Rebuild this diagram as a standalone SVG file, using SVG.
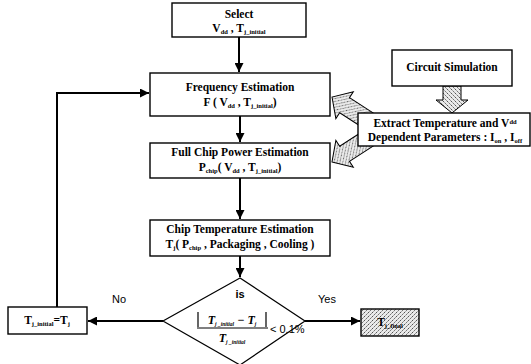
<svg xmlns="http://www.w3.org/2000/svg" width="531" height="364" viewBox="0 0 531 364">
<defs>
<style>
.box{fill:#fff;stroke:#000;stroke-width:1.4}
.t{font-family:"Liberation Serif",serif;font-weight:bold;font-size:11.5px;fill:#000;text-anchor:middle}
.s{font-size:6.5px}
.sans{font-family:"Liberation Sans",Arial,sans-serif;font-size:11px;fill:#000}
.con{fill:none;stroke:#000;stroke-width:2}
.blk{fill:url(#dots);stroke:#000;stroke-width:1}
</style>
<pattern id="dots" width="4" height="4" patternUnits="userSpaceOnUse">
<rect width="4" height="4" fill="#eaeaea"/>
<rect x="0" y="0" width="1" height="1" fill="#555"/>
<rect x="2" y="2" width="1" height="1" fill="#777"/>
<rect x="3" y="1" width="1" height="1" fill="#999"/>
<rect x="1" y="3" width="1" height="1" fill="#aaa"/>
</pattern>
<marker id="ah" viewBox="0 0 10 10" refX="10" refY="5" markerWidth="9" markerHeight="9" markerUnits="userSpaceOnUse" orient="auto">
<path d="M0,0 L10,5 L0,10 z" fill="#000"/>
</marker>
</defs>

<g id="connectors">
<line class="con" x1="239" y1="37" x2="239" y2="72" marker-end="url(#ah)"/>
<line class="con" x1="240" y1="116" x2="240" y2="142" marker-end="url(#ah)"/>
<line class="con" x1="240" y1="178" x2="240" y2="219" marker-end="url(#ah)"/>
<line class="con" x1="240" y1="256" x2="240" y2="277" marker-end="url(#ah)"/>
<line class="con" x1="163" y1="321" x2="88" y2="321" marker-end="url(#ah)"/>
<line class="con" x1="305" y1="321" x2="360" y2="321" marker-end="url(#ah)"/>
<polyline class="con" points="57,307 57,93 149,93" marker-end="url(#ah)"/>
<polygon class="blk" transform="translate(332,97) rotate(213)" points="0,0 -15,-16 -15,-9 -44,-9 -44,9 -15,9 -15,16"/>
<polygon class="blk" transform="translate(332,162) rotate(147)" points="0,0 -15,-16 -15,-9 -44,-9 -44,9 -15,9 -15,16"/>
<polygon class="blk" transform="translate(452,113) rotate(90)" points="0,0 -13,-16 -13,-9 -27,-9 -27,9 -13,9 -13,16"/>
<text class="sans" x="112" y="303">No</text>
<text class="sans" x="318" y="303">Yes</text>
</g>

<g id="select">
<rect class="box" x="172" y="3" width="134" height="34"/>
<text class="t" x="239" y="18">Select</text>
<text class="t" x="239" y="32">V<tspan class="s" dy="2">dd</tspan><tspan dy="-2"> , T</tspan><tspan class="s" dy="2">j_initial</tspan></text>
</g>

<g id="freq">
<rect class="box" x="150" y="73" width="180" height="43"/>
<text class="t" x="240" y="91">Frequency Estimation</text>
<text class="t" x="240" y="106">F ( V<tspan class="s" dy="2">dd</tspan><tspan dy="-2"> , T</tspan><tspan class="s" dy="2">j_initial</tspan><tspan dy="-2">)</tspan></text>
</g>

<g id="power">
<rect class="box" x="150" y="143" width="180" height="35"/>
<text class="t" x="240" y="156">Full Chip Power Estimation</text>
<text class="t" x="240" y="171">P<tspan class="s" dy="2">chip</tspan><tspan dy="-2">( V</tspan><tspan class="s" dy="2">dd</tspan><tspan dy="-2"> , T</tspan><tspan class="s" dy="2">j_initial</tspan><tspan dy="-2">)</tspan></text>
</g>

<g id="temp">
<rect class="box" x="150" y="220" width="180" height="36"/>
<text class="t" x="240" y="233">Chip Temperature Estimation</text>
<text class="t" x="240" y="248">T<tspan class="s" dy="2">j</tspan><tspan dy="-2">( P</tspan><tspan class="s" dy="2">chip</tspan><tspan dy="-2"> , Packaging , Cooling )</tspan></text>
</g>

<g id="circuit">
<rect class="box" x="392" y="50" width="120" height="36"/>
<text class="t" x="452" y="71">Circuit Simulation</text>
</g>

<g id="extract">
<rect class="box" x="358" y="113" width="172" height="33"/>
<text class="t" x="445" y="127">Extract Temperature and V<tspan class="s" dy="-3">dd</tspan></text>
<text class="t" x="445" y="141"><tspan dy="0">Dependent Parameters : I</tspan><tspan class="s" dy="2">on</tspan><tspan dy="-2"> , I</tspan><tspan class="s" dy="2">off</tspan></text>
</g>

<g id="decision">
<polygon fill="#fff" stroke="#000" stroke-width="1.2" points="240,278 163,321 240,365 305,321"/>
<text class="sans" x="240" y="298" text-anchor="middle" font-weight="bold" font-size="12">is</text>
<path d="M198,312 V327 M266,312 V327" stroke="#000" stroke-width="1.2"/>
<line x1="197" y1="328" x2="268" y2="328" stroke="#000" stroke-width="1"/>
<text x="232" y="324" text-anchor="middle" font-family="Liberation Serif,serif" font-style="italic" font-weight="bold" font-size="12">T<tspan font-size="5.5" dy="2">j _initial</tspan><tspan dy="-2"> − T</tspan><tspan font-size="5.5" dy="2">j</tspan></text>
<text x="232" y="342" text-anchor="middle" font-family="Liberation Serif,serif" font-style="italic" font-weight="bold" font-size="12">T<tspan font-size="5.5" dy="2">j _initial</tspan></text>
<text class="sans" x="270" y="333" font-size="10">&lt; 0.1%</text>
</g>

<g id="tjassign">
<rect class="box" x="8" y="307" width="79" height="27"/>
<text class="t" x="47" y="324">T<tspan class="s" dy="2">j_initial</tspan><tspan dy="-2">=T</tspan><tspan class="s" dy="2">j</tspan></text>
</g>

<g id="final">
<rect x="361" y="309" width="58" height="27" fill="url(#dots)" stroke="#000" stroke-width="1.4"/>
<text class="t" x="390" y="326" font-size="13">T<tspan class="s" dy="2">j_final</tspan></text>
</g>
</svg>
